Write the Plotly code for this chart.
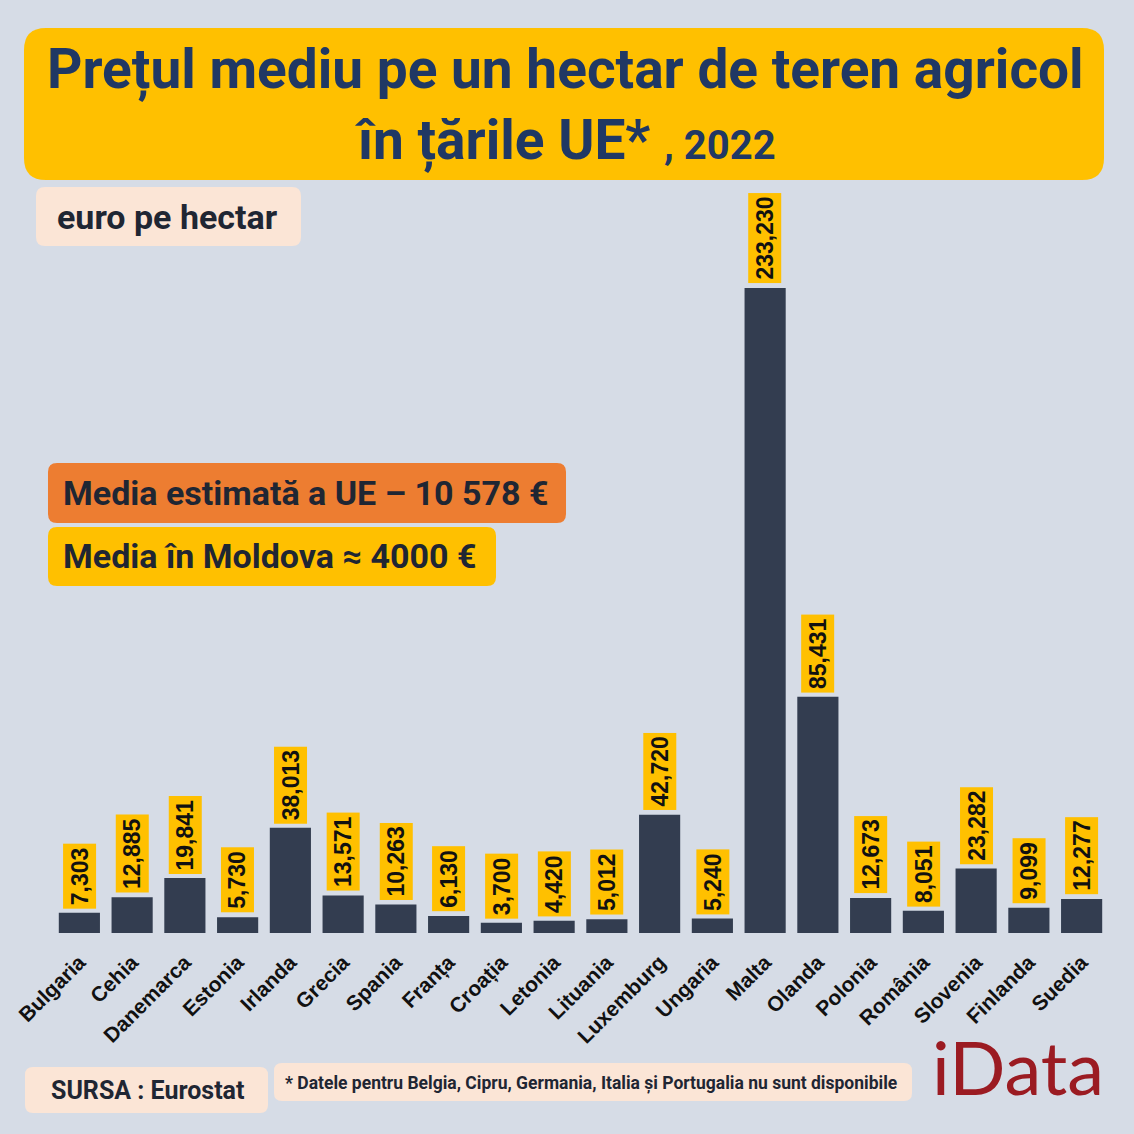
import plotly.graph_objects as go

# data, euro per hectare, 2022
countries = ["Bulgaria", "Cehia", "Danemarca", "Estonia", "Irlanda", "Grecia", "Spania",
             "Franța", "Croația", "Letonia", "Lituania", "Luxemburg", "Ungaria", "Malta",
             "Olanda", "Polonia", "România", "Slovenia", "Finlanda", "Suedia"]
prices = [7303, 12885, 19841, 5730, 38013, 13571, 10263, 6130, 3700, 4420, 5012,
          42720, 5240, 233230, 85431, 12673, 8051, 23282, 9099, 12277]

title_line1 = "Prețul mediu pe un hectar de teren agricol"
title_line2 = "în țările UE* "
title_year = "2022"
unit_text = "euro pe hectar"
eu_avg_text = "Media estimată a UE – 10 578 €"
md_avg_text = "Media în Moldova ≈ 4000 €"
source_text = "SURSA : Eurostat"
note_text = "* Datele pentru Belgia, Cipru, Germania, Italia și Portugalia nu sunt disponibile"

W, H = 1134, 1134
L, R, T, B = 53, 26, 180, 201
PW, PH = W - L - R, H - T - B

BG = "#d6dce6"
BAR = "#333d50"
YEL = "#ffc000"
ORANGE = "#ed7d31"
PEACH = "#fbe5d6"
NAVY = "#203864"
DARK = "#1f2633"


def px(x, y):
    # pixel position on page -> paper coords
    return (x - L) / PW, (H - B - y) / PH


def rounded_box(x0, y0, x1, y1, r, color):
    pts = [("M", x0 + r, y0), ("L", x1 - r, y0), ("Q", x1, y0, x1, y0 + r),
           ("L", x1, y1 - r), ("Q", x1, y1, x1 - r, y1), ("L", x0 + r, y1),
           ("Q", x0, y1, x0, y1 - r), ("L", x0, y0 + r), ("Q", x0, y0, x0 + r, y0)]
    path = ""
    for p in pts:
        cmd = p[0]
        coords = p[1:]
        s = []
        for i in range(0, len(coords), 2):
            a, b = px(coords[i], coords[i + 1])
            s.append(f"{a:.5f},{b:.5f}")
        path += cmd + " ".join(s) + " "
    return dict(type="path", path=path + "Z", xref="paper", yref="paper",
                fillcolor=color, line=dict(width=0), layer="below")


fig = go.Figure()
fig.add_trace(go.Bar(x=countries, y=prices, marker_color=BAR, marker_line_width=0,
                     hoverinfo="x+y"))

shapes = [
    rounded_box(24, 28, 1104, 180, 22, YEL),
    rounded_box(36, 187, 301, 246, 9, PEACH),
    rounded_box(48, 463, 566, 523, 9, ORANGE),
    rounded_box(48, 527, 496, 586, 9, YEL),
    rounded_box(25, 1067, 268, 1113, 8, PEACH),
    rounded_box(274, 1063, 912, 1101, 8, PEACH),
]

annotations = []
# value labels on top of the bars
for c, v in zip(countries, prices):
    annotations.append(dict(x=c, y=v, xref="x", yref="y", text=f"{v:,}", textangle=-90,
                            showarrow=False, yanchor="bottom", xanchor="center", yshift=4,
                            bgcolor=YEL, borderpad=3,
                            font=dict(family="Liberation Sans", size=23, color="#111111",
                                      weight=700)))


def txt(x, y, text, size, color, family="Roboto", weight=700, xanchor="left"):
    a, b = px(x, y)
    return dict(x=a, y=b, xref="paper", yref="paper", text=text, showarrow=False,
                xanchor=xanchor, yanchor="middle",
                font=dict(family=family, size=size, color=color, weight=weight))


annotations += [
    txt(565, 70, title_line1, 55, NAVY, xanchor="center"),
    txt(565, 140, title_line2 + f"<span style='font-size:40px'>, {title_year}</span>",
        55, NAVY, xanchor="center"),
    txt(55, 217, unit_text, 34, DARK),
    txt(61, 493, eu_avg_text, 34, DARK),
    txt(61, 556, md_avg_text, 34, DARK),
    txt(49, 1090, source_text, 25, DARK),
    txt(283, 1083, note_text, 17.5, DARK),
    txt(930, 1066, "iData", 74, "#9b1b22", family="Lato", weight=400),
]

fig.update_layout(
    width=W, height=H,
    margin=dict(l=L, r=R, t=T, b=B),
    paper_bgcolor=BG, plot_bgcolor=BG,
    bargap=0.22,
    showlegend=False,
    shapes=shapes,
    annotations=annotations,
)
fig.update_xaxes(tickangle=-45, showgrid=False, showline=False, ticks="",
                 ticklabelstandoff=12,
                 tickfont=dict(family="Liberation Sans", size=21, color="#111111", weight=700))
fig.update_yaxes(range=[0, 272250], visible=False, showgrid=False, zeroline=False)

fig.write_html("out.html", config={"displayModeBar": False},
               post_script="document.body.style.margin='0';")
